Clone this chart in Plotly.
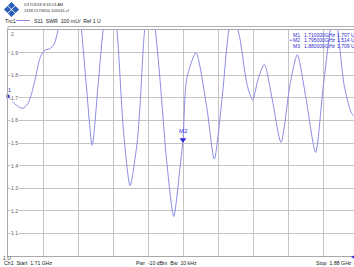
import plotly.graph_objects as go

# ---- data ----
freq_ghz = [1.7100, 1.7134, 1.7171, 1.7197, 1.7215, 1.7236, 1.7255, 1.7275, 1.7304, 1.7323,
            1.7338, 1.7353, 1.7401, 1.7450, 1.7479, 1.7509, 1.7537, 1.7563, 1.7595, 1.7628,
            1.7660, 1.7693, 1.7727, 1.7741, 1.7765, 1.7790, 1.7814, 1.7838, 1.7871, 1.7905,
            1.7935, 1.7950, 1.7968, 1.8013, 1.8065, 1.8102, 1.8139, 1.8173, 1.8198, 1.8217,
            1.8227, 1.8262, 1.8288, 1.8314, 1.8345, 1.8382, 1.8426, 1.8470, 1.8505, 1.8547,
            1.8594, 1.8630, 1.8667, 1.8683, 1.8700, 1.8732, 1.8766, 1.8781, 1.8800]
swr = [1.707, 1.672, 1.653, 1.675, 1.720, 1.800, 1.875, 1.908, 1.918, 1.935,
       1.980, 2.060, 2.250, 2.050, 1.770, 1.490, 1.750, 2.010, 2.200, 2.010,
       1.564, 1.311, 1.500, 1.660, 2.010, 2.120, 2.010, 1.784, 1.417, 1.175,
       1.388, 1.514, 1.784, 1.899, 1.660, 1.429, 1.690, 2.000, 2.080, 2.000,
       1.960, 1.755, 1.690, 1.780, 1.848, 1.700, 1.503, 1.760, 1.890, 1.700,
       1.458, 1.740, 2.010, 2.070, 2.010, 1.760, 1.637, 1.620, 1.709]

marker_names = ["M1", "M2", "M3"]
marker_freq = [1.710, 1.795, 1.880]
marker_val = [1.707, 1.514, 1.709]

y_tick_vals = [2.0, 1.9, 1.8, 1.7, 1.6, 1.5, 1.4, 1.3, 1.2, 1.1]
y_tick_text = ["2", "1.9", "1.8", "1.7", "1.6", "1.5", "1.4", "1.3", "1.2", "1.1"]

start_ghz = 1.71
stop_ghz = 1.88

# ---- geometry ----
W, H = 354, 267
L, R, T, B = 8, 354, 30, 256
PW, PH = R - L, B - T
x_visible_stop = start_ghz + (stop_ghz - start_ghz) * PW / 350.0

def px(x):
    return (x - L) / PW

def py(y):
    return (B - y) / PH

FONT = "Liberation Sans"
BLUE = "#2a2ad0"
TRACE = "#8c8ce4"
GRID = "#c4c4c4"

fig = go.Figure()
fig.add_trace(go.Scatter(x=freq_ghz, y=swr, mode="lines",
                         line=dict(color=TRACE, width=1, shape="spline", smoothing=0.7),
                         hoverinfo="skip"))
fig.add_trace(go.Scatter(x=[marker_freq[1]], y=[marker_val[1]], mode="markers",
                         marker=dict(symbol="triangle-down", size=6, color=BLUE),
                         hoverinfo="skip"))
fig.add_trace(go.Scatter(x=[marker_freq[0]], y=[marker_val[0]], mode="markers",
                         marker=dict(symbol="square", size=3, color=BLUE),
                         cliponaxis=False, hoverinfo="skip"))

ann = []
ann.append(dict(x=marker_freq[1], y=marker_val[1], xref="x", yref="y", text="M2",
                showarrow=False, yshift=9, font=dict(family=FONT, size=6, color=BLUE)))
ann.append(dict(x=marker_freq[0], y=marker_val[0], xref="x", yref="y", text="1",
                showarrow=False, yshift=6, xshift=1, font=dict(family=FONT, size=5.5, color=BLUE)))

for v, t in zip(y_tick_vals, y_tick_text):
    ann.append(dict(x=px(10), y=v, xref="paper", yref="y", text=t, showarrow=False,
                    xanchor="left", yanchor="middle" if v < 2 else "top",
                    bgcolor="white", borderpad=0,
                    font=dict(family=FONT, size=5, color="#606060")))
ann.append(dict(x=px(0.5), y=py(257.5), xref="paper", yref="paper", text="1 U", showarrow=False,
                xanchor="left", yanchor="middle", font=dict(family=FONT, size=5, color="#404040")))

rows_y = [35.3, 40.4, 45.5]
for i, (n, f, v) in enumerate(zip(marker_names, marker_freq, marker_val)):
    yy = py(rows_y[i])
    if i == 1:
        ann.append(dict(x=px(288.3), y=yy, xref="paper", yref="paper", text="•", showarrow=False,
                        xanchor="left", yanchor="middle", font=dict(family=FONT, size=5, color=BLUE)))
    ann.append(dict(x=px(291.3), y=yy, xref="paper", yref="paper", text=n, showarrow=False,
                    xanchor="left", yanchor="middle", font=dict(family=FONT, size=5, color=BLUE)))
    ann.append(dict(x=px(302.3), y=yy, xref="paper", yref="paper", text=f"{f:.6f}", showarrow=False,
                    xanchor="left", yanchor="middle", font=dict(family=FONT, size=5, color=BLUE)))
    ann.append(dict(x=px(323.3), y=yy, xref="paper", yref="paper", text="GHz", showarrow=False,
                    xanchor="left", yanchor="middle", font=dict(family=FONT, size=5, color=BLUE)))
    ann.append(dict(x=px(335.2), y=yy, xref="paper", yref="paper", text=f"{v:.3f} U", showarrow=False,
                    xanchor="left", yanchor="middle", font=dict(family=FONT, size=5, color=BLUE)))

ann.append(dict(x=px(21.5), y=py(5), xref="paper", yref="paper", text="5/17/2018 8:33:13 AM",
                showarrow=False, xanchor="left", yanchor="middle",
                font=dict(family=FONT, size=4, color="#303030")))
ann.append(dict(x=px(21.5), y=py(10), xref="paper", yref="paper", text="1328.5170K50-100541-cf",
                showarrow=False, xanchor="left", yanchor="middle",
                font=dict(family=FONT, size=4, color="#303030")))
ann.append(dict(x=px(2.7), y=py(20.5), xref="paper", yref="paper", text="Trc1",
                showarrow=False, xanchor="left", yanchor="middle",
                font=dict(family=FONT, size=5.5, color="#202020")))
ann.append(dict(x=px(31.7), y=py(20.5), xref="paper", yref="paper", text="S11  SWR  100 mU/  Ref 1 U",
                showarrow=False, xanchor="left", yanchor="middle",
                font=dict(family=FONT, size=5.2, color="#202020")))

ann.append(dict(x=px(1.5), y=py(263), xref="paper", yref="paper", text="Ch1  Start  1.71 GHz",
                showarrow=False, xanchor="left", yanchor="middle",
                font=dict(family=FONT, size=5.2, color="#202020")))
ann.append(dict(x=px(166.7), y=py(263), xref="paper", yref="paper", text="Pwr  -10 dBm  Bw  10 kHz",
                showarrow=False, xanchor="center", yanchor="middle",
                font=dict(family=FONT, size=5.2, color="#202020")))
ann.append(dict(x=px(353.5), y=py(263), xref="paper", yref="paper", text="Stop  1.88 GHz",
                showarrow=False, xanchor="right", yanchor="middle",
                font=dict(family=FONT, size=5.2, color="#202020")))

shapes = []
shapes.append(dict(type="line", xref="paper", yref="paper", x0=px(16), x1=px(30), y0=py(20.5), y1=py(20.5),
                   line=dict(color=TRACE, width=1)))
shapes.append(dict(type="line", xref="paper", yref="paper", x0=px(8), x1=px(354), y0=py(26.5), y1=py(26.5),
                   line=dict(color="#b0b0b0", width=1)))
shapes.append(dict(type="line", xref="paper", yref="paper", x0=0, x1=0, y0=py(26.5), y1=1,
                   line=dict(color="#b0b0b0", width=1)))

def diamond(cx, cy, r):
    return (f"M {px(cx)},{py(cy - r)} L {px(cx + r)},{py(cy)} L {px(cx)},{py(cy + r)} "
            f"L {px(cx - r)},{py(cy)} Z")
for cx, cy in [(11.5, 5.5), (7.5, 9.5), (15.5, 9.5), (11.5, 13.5)]:
    shapes.append(dict(type="path", xref="paper", yref="paper", path=diamond(cx, cy, 3.6),
                       fillcolor="#2c5fb8", line=dict(width=0)))
shapes.append(dict(type="path", xref="paper", yref="paper",
                   path=f"M {px(351)},{py(257)} L {px(354)},{py(255.5)} L {px(354)},{py(258.5)} Z",
                   fillcolor=BLUE, line=dict(width=0)))

fig.update_layout(
    width=W, height=H,
    margin=dict(l=L, r=W - R, t=T, b=H - B, pad=0),
    paper_bgcolor="white", plot_bgcolor="white",
    showlegend=False,
    annotations=ann, shapes=shapes,
    xaxis=dict(range=[start_ghz, x_visible_stop], tick0=start_ghz, dtick=(stop_ghz - start_ghz) / 10,
               showgrid=True, gridcolor=GRID, gridwidth=1, zeroline=False,
               showticklabels=False, ticks="", showline=True, linecolor="#a8a8a8", mirror=True),
    yaxis=dict(range=[1, 2], tick0=1, dtick=0.1, showgrid=True, gridcolor=GRID, gridwidth=1,
               zeroline=False, showticklabels=False, ticks="", showline=True, linecolor="#a8a8a8",
               mirror=True),
)

fig.write_html("out.html",
               config={"displayModeBar": False},
               post_script="document.body.style.margin='0';document.body.style.padding='0';"
                           "document.body.style.overflow='hidden';")
